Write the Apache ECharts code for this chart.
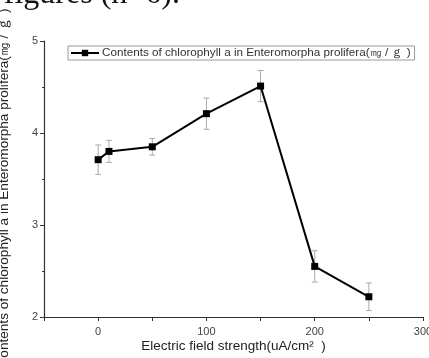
<!DOCTYPE html>
<html><head><meta charset="utf-8">
<script src="https://cdn.jsdelivr.net/npm/echarts@6/dist/echarts.min.js"></script>
<style>html,body{margin:0;padding:0;background:#fff}#c{width:429px;height:358px}</style>
</head><body><div id="c"></div>
<script>
const xValues = [0, 10, 50, 100, 150, 200, 250];
const yValues = [3.71, 3.80, 3.85, 4.21, 4.51, 2.55, 2.22];
const yErrors = [0.16, 0.12, 0.09, 0.17, 0.17, 0.17, 0.15];
const seriesName = 'Contents of chlorophyll a in Enteromorpha prolifera(㎎ / ｇ )';
const xName = 'Electric field strength(uA/cm²  )';
const yName = 'Contents of chlorophyll a in Enteromorpha prolifera(㎎ / ｇ )';
const xLabels = [0, 100, 200, 300];
const yLabels = [2, 3, 4, 5];
const caption = 'figures (n=6).';

const chart = echarts.init(document.getElementById('c'), null, {renderer: 'canvas'});
const ff = 'Liberation Sans, Arial, sans-serif';
chart.setOption({
  animation: false,
  graphic: [{
    type: 'text', x: 180, y: 11,
    style: {text: caption, font: '32px "Liberation Serif", serif', fill: '#111', align: 'right', verticalAlign: 'bottom'}
  }],
  legend: {
    left: 68, top: 46, padding: [1, 4, 1, 2],
    borderColor: '#999', borderWidth: 1,
    itemWidth: 28, itemHeight: 8, itemGap: 4,
    textStyle: {fontFamily: ff, fontSize: 11.7, color: '#333', padding: [0,0,0,-2]},
    data: [seriesName]
  },
  grid: {left: 44, right: 6, top: 41, bottom: 41, containLabel: false, outerBoundsMode: 'none'},
  xAxis: {
    type: 'value', min: -50, max: 300, interval: 50,
    name: xName, nameLocation: 'middle', nameGap: 22, nameMoveOverlap: false,
    nameTextStyle: {fontFamily: ff, fontSize: 13.5, color: '#222'},
    axisLine: {onZero: false, lineStyle: {color: '#333', width: 1.2}},
    axisTick: {show: true, length: 4, inside: false, lineStyle: {color: '#333'}},
    axisLabel: {fontFamily: ff, fontSize: 11, color: '#444', margin: 9,
      formatter: v => xLabels.includes(v) ? String(v) : ''},
    splitLine: {show: false}
  },
  yAxis: {
    type: 'value', min: 2, max: 5, interval: 1,
    name: yName, nameLocation: 'middle', nameGap: 33, nameRotate: 90, nameMoveOverlap: false,
    nameTextStyle: {fontFamily: ff, fontSize: 13.6, color: '#222', padding: [0, 18, 0, 0]},
    axisLine: {show: true, onZero: false, lineStyle: {color: '#333', width: 1.2}},
    axisTick: {show: true, length: 4, lineStyle: {color: '#333'}},
    minorTick: {show: true, splitNumber: 2, length: 2, lineStyle: {color: '#333'}},
    axisLabel: {fontFamily: ff, fontSize: 11, color: '#444', margin: 6,
      formatter: v => yLabels.includes(v) ? String(v) : ''},
    splitLine: {show: false}
  },
  series: [
    {
      type: 'custom', name: 'err', silent: true,
      data: xValues.map((x, i) => [x, yValues[i], yErrors[i]]),
      renderItem: function (params, api) {
        const x = api.value(0), y = api.value(1), e = api.value(2);
        const hi = api.coord([x, y + e]), lo = api.coord([x, y - e]);
        const cw = 3;
        const st = {stroke: '#aaa', lineWidth: 1};
        return {type: 'group', children: [
          {type: 'line', shape: {x1: hi[0], y1: hi[1], x2: lo[0], y2: lo[1]}, style: st},
          {type: 'line', shape: {x1: hi[0]-cw, y1: hi[1], x2: hi[0]+cw, y2: hi[1]}, style: st},
          {type: 'line', shape: {x1: lo[0]-cw, y1: lo[1], x2: lo[0]+cw, y2: lo[1]}, style: st}
        ]};
      },
      z: 1
    },
    {
      type: 'line', name: seriesName,
      data: xValues.map((x, i) => [x, yValues[i]]),
      symbol: 'rect', symbolSize: 7, showSymbol: true,
      lineStyle: {color: '#000', width: 2},
      itemStyle: {color: '#000'},
      z: 3
    }
  ]
});
</script></body></html>
